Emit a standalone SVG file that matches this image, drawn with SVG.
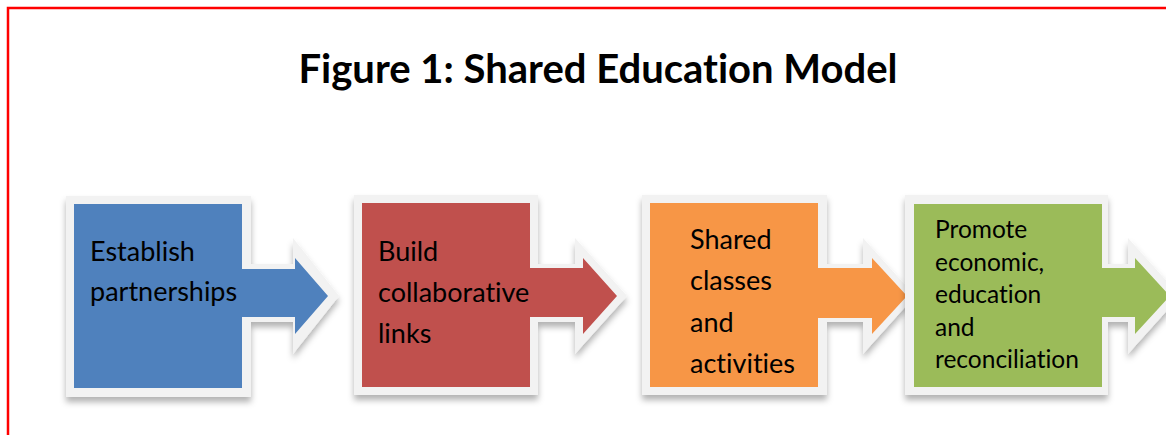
<svg xmlns="http://www.w3.org/2000/svg" width="1166" height="435" viewBox="0 0 1166 435">
<defs>
<style>
.frame{fill:none;stroke:#FF0000;stroke-width:2.5}
text{font-family:Lato,"Open Sans",sans-serif;fill:#000;font-variant-ligatures:none;font-feature-settings:"liga" 0}
.title{font-weight:bold;font-size:40px;text-anchor:middle}
.lbl{font-size:27px}
.lbl4{font-size:24.5px}
.edge{fill:#F2F2F2}
</style>
<filter id="sh" x="-10%" y="-10%" width="130%" height="130%">
<feDropShadow dx="0" dy="5" stdDeviation="3" flood-color="#000" flood-opacity="0.3"/>
</filter>
</defs>
<rect width="1166" height="435" fill="#fff"/>
<rect class="frame" x="8" y="8" width="1200" height="500"/>
<text class="title" x="598" y="83">Figure 1: Shared Education Model</text>

<g id="node1">
<path class="edge" filter="url(#sh)" d="M66,196 H251 V264 H293 V238 L339,296 L293,354 V322 H251 V397 H66 Z"/>
<path fill="#4F81BD" d="M74,204 H242 V269 H295 V258 L328,296 L295,334 V317 H242 V388 H74 Z"/>
<text class="lbl" x="90" y="261">Establish</text>
<text class="lbl" x="90" y="301">partnerships</text>
</g>

<g id="node2">
<path class="edge" filter="url(#sh)" d="M354,195 H538 V264 H575 V238 L627,296 L575,354 V322 H538 V395 H354 Z"/>
<path fill="#C0504D" d="M362,203 H530 V268 H583 V258 L617,296 L583,334 V317 H530 V387 H362 Z"/>
<text class="lbl" x="378" y="261">Build</text>
<text class="lbl" x="378" y="302">collaborative</text>
<text class="lbl" x="378" y="343">links</text>
</g>

<g id="node3">
<path class="edge" filter="url(#sh)" d="M642,195 H827 V264 H863 V238 L915,296 L863,354 V322 H827 V395 H642 Z"/>
<path fill="#F79646" d="M650,203 H818 V268 H872 V258 L907,296 L872,334 V318 H818 V387 H650 Z"/>
<text class="lbl" x="690" y="249">Shared</text>
<text class="lbl" x="690" y="290">classes</text>
<text class="lbl" x="690" y="332">and</text>
<text class="lbl" x="690" y="373">activities</text>
</g>

<g id="node4">
<path class="edge" filter="url(#sh)" d="M905,195 H1108 V264 H1128 V238 L1180,296 L1128,354 V322 H1108 V395 H905 Z"/>
<path fill="#9BBB59" d="M914,204 H1102 V268 H1135 V258 L1170,296 L1135,334 V317 H1102 V387 H914 Z"/>
<text class="lbl4" x="935" y="238">Promote</text>
<text class="lbl4" x="935" y="271">economic,</text>
<text class="lbl4" x="935" y="303">education</text>
<text class="lbl4" x="935" y="336">and</text>
<text class="lbl4" x="935" y="368">reconciliation</text>
</g>

<g id="connectors"></g>
</svg>
